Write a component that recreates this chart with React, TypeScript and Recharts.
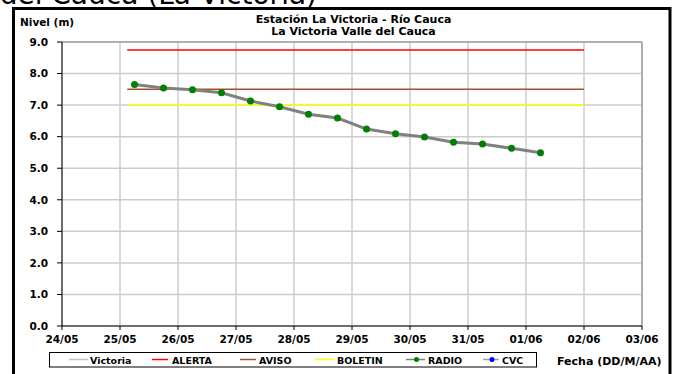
import React from 'react';
import { LineChart, Line, XAxis, YAxis, CartesianGrid, ReferenceLine } from 'recharts';

// x values are days counted from 24/05 00:00
const dateLabels = ['24/05', '25/05', '26/05', '27/05', '28/05', '29/05', '30/05', '31/05', '01/06', '02/06', '03/06'];
const xTicks = [0, 1, 2, 3, 4, 5, 6, 7, 8, 9, 10];
const yTicks = [0, 1, 2, 3, 4, 5, 6, 7, 8, 9];

const radioDays = [1.25, 1.75, 2.25, 2.75, 3.25, 3.75, 4.25, 4.75, 5.25, 5.75, 6.25, 6.75, 7.25, 7.75, 8.25];
const radioLevels = [7.65, 7.54, 7.49, 7.39, 7.13, 6.95, 6.71, 6.59, 6.24, 6.09, 5.99, 5.82, 5.77, 5.63, 5.49];

const thresholdSpan = [1.125, 9];
const alertaLevel = 8.75;
const avisoLevel = 7.5;
const boletinLevel = 7.0;

const radioData = radioDays.map((d, i) => ({ x: d, y: radioLevels[i] }));
const flat = (v: number) => thresholdSpan.map(x => ({ x, y: v }));

const FONT = '"DejaVu Sans", Arial, sans-serif';

const legendItems = [
  { name: 'Victoria', color: '#c0c0c0', x1: 69, x2: 88, tx: 90 },
  { name: 'ALERTA', color: '#ff0000', x1: 152, x2: 168, tx: 172 },
  { name: 'AVISO', color: '#a0522d', x1: 240, x2: 256, tx: 259 },
  { name: 'BOLETIN', color: '#ffff00', x1: 315, x2: 334, tx: 337 },
  { name: 'RADIO', color: '#808080', dot: '#008000', x1: 406, x2: 425, tx: 428 },
  { name: 'CVC', color: '#a0a0a0', dot: '#0000ff', x1: 483, x2: 499, tx: 502 },
];

export default function App() {
  return (
    <div style={{ position: 'absolute', left: 0, top: 0, width: 679, height: 374, background: '#fff', overflow: 'hidden' }}>
      <LineChart width={679} height={374} data={radioData} margin={{ top: 42, right: 37, bottom: 18, left: 2 }}>
        <CartesianGrid stroke="#cccccc" strokeWidth={1.5} />
        <XAxis
          type="number"
          dataKey="x"
          domain={[0, 10]}
          ticks={xTicks}
          tickFormatter={(v: number) => dateLabels[v]}
          height={30}
          stroke="#000"
          tickSize={4}
          tickMargin={6}
          tick={{ fill: '#000', fontSize: 10.5, fontWeight: 700, fontFamily: FONT }}
          interval={0}
        />
        <YAxis
          type="number"
          domain={[0, 9]}
          ticks={yTicks}
          tickFormatter={(v: number) => v.toFixed(1)}
          width={60}
          stroke="#000"
          tickSize={5}
          tickMargin={9}
          tick={{ fill: '#000', fontSize: 10.5, fontWeight: 700, fontFamily: FONT }}
          interval={0}
        />
        <ReferenceLine y={9} stroke="#a0a0a0" strokeWidth={1.5} />
        <ReferenceLine x={10} stroke="#a0a0a0" strokeWidth={1.5} />
        <Line data={flat(alertaLevel)} dataKey="y" stroke="#ff0000" strokeWidth={1.5} dot={false} isAnimationActive={false} />
        <Line data={flat(avisoLevel)} dataKey="y" stroke="#a0522d" strokeWidth={1.5} dot={false} isAnimationActive={false} />
        <Line data={flat(boletinLevel)} dataKey="y" stroke="#ffff00" strokeWidth={1.5} dot={false} isAnimationActive={false} />
        <Line
          data={radioData}
          dataKey="y"
          stroke="#808080"
          strokeWidth={3}
          dot={{ r: 3.5, fill: '#008000', stroke: '#008000', strokeWidth: 0 }}
          isAnimationActive={false}
        />
      </LineChart>

      <svg width={679} height={374} style={{ position: 'absolute', left: 0, top: 0, pointerEvents: 'none' }}>
        <text x={317} y={4} textAnchor="end" fontSize={28} fontFamily={FONT} fill="#000">del Cauca (La Victoria)</text>
        <rect x={13.5} y={8.5} width={656.5} height={400} fill="none" stroke="#000" strokeWidth={3} />
        <text x={20} y={26} fontSize={10.5} fontWeight={700} fontFamily={FONT} fill="#000">Nivel (m)</text>
        <text x={353.5} y={23} textAnchor="middle" fontSize={11} fontWeight={700} fontFamily={FONT} fill="#000">Estación La Victoria - Río Cauca</text>
        <text x={353.5} y={35} textAnchor="middle" fontSize={11} fontWeight={700} fontFamily={FONT} fill="#000">La Victoria Valle del Cauca</text>

        <rect x={49.5} y={352.5} width={487} height={14.5} fill="#fff" stroke="#000" strokeWidth={1} />
        {legendItems.map(it => (
          <g key={it.name}>
            <line x1={it.x1} x2={it.x2} y1={359.5} y2={359.5} stroke={it.color} strokeWidth={1.5} />
            {it.dot && <circle cx={(it.x1 + it.x2) / 2 + 1} cy={359.5} r={2.5} fill={it.dot} />}
            <text x={it.tx} y={363.5} fontSize={9.5} fontWeight={700} fontFamily={FONT} fill="#000">{it.name}</text>
          </g>
        ))}
        <text x={557} y={364.5} fontSize={11} fontWeight={700} fontFamily={FONT} fill="#000">Fecha (DD/M/AA)</text>
      </svg>
    </div>
  );
}
